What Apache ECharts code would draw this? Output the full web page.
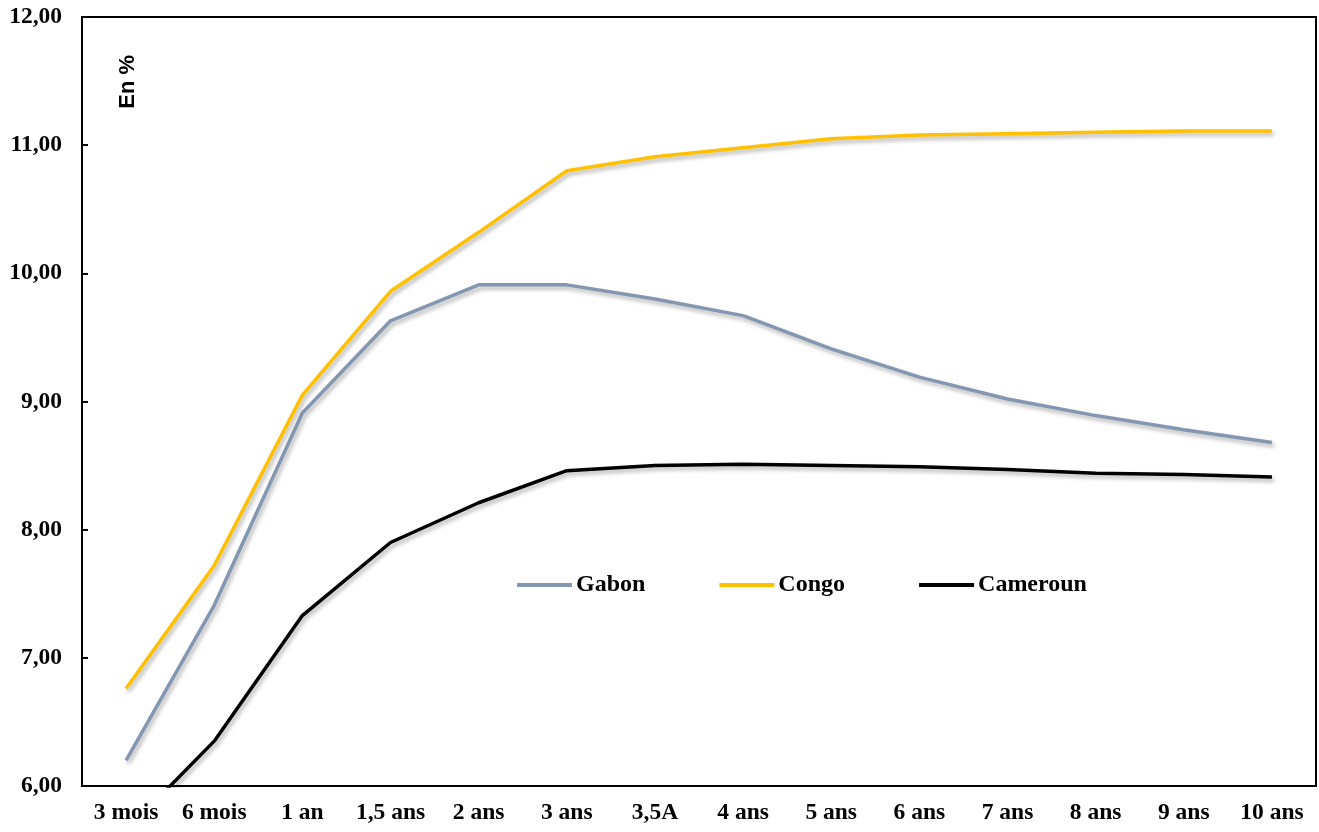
<!DOCTYPE html>
<html>
<head>
<meta charset="utf-8">
<script src="https://cdn.jsdelivr.net/npm/echarts@6/dist/echarts.min.js"></script>
<style>
html, body { margin: 0; padding: 0; background: #fff; }
#chart { width: 1319px; height: 832px; }
</style>
</head>
<body>
<div id="chart"></div>
<script>
// échéances
const maturites = ['3 mois', '6 mois', '1 an', '1,5 ans', '2 ans', '3 ans', '3,5A', '4 ans', '5 ans', '6 ans', '7 ans', '8 ans', '9 ans', '10 ans'];
// taux en %
const gabon = [6.20, 7.41, 8.91, 9.63, 9.91, 9.91, 9.80, 9.67, 9.41, 9.19, 9.02, 8.89, 8.78, 8.68];
const congo = [6.76, 7.72, 9.05, 9.86, 10.32, 10.80, 10.91, 10.98, 11.05, 11.08, 11.09, 11.10, 11.11, 11.11];
const cameroun = [5.65, 6.35, 7.33, 7.90, 8.21, 8.46, 8.50, 8.51, 8.50, 8.49, 8.47, 8.44, 8.43, 8.41];

const serif = '"Liberation Serif", "Times New Roman", serif';

const chart = echarts.init(document.getElementById('chart'));

// style commun des courbes
function serie(name, data, color) {
    return {
        name: name,
        type: 'line',
        data: data,
        symbol: 'none',
        clip: true,
        lineStyle: {
            color: color,
            width: 3.5,
            shadowColor: 'rgba(0,0,0,0.3)',
            shadowBlur: 4,
            shadowOffsetX: 2,
            shadowOffsetY: 3
        },
        itemStyle: { color: color }
    };
}

chart.setOption({
    animation: false,
    grid: {
        left: 82, right: 3, top: 17, bottom: 46,
        show: true, borderColor: '#000', borderWidth: 2
    },
    legend: {
        left: 512, top: 568,
        itemWidth: 55, itemHeight: 4, itemGap: 74,
        icon: 'rect',
        textStyle: { fontFamily: serif, fontWeight: 'bold', fontSize: 24, color: '#000', padding: [0, 0, 0, -1] },
        data: ['Gabon', 'Congo', 'Cameroun']
    },
    xAxis: {
        type: 'category',
        data: maturites,
        boundaryGap: true,
        axisLine: { lineStyle: { color: '#000', width: 2 } },
        axisTick: { inside: true, length: 6, lineStyle: { color: '#000', width: 2 } },
        axisLabel: { fontFamily: serif, fontWeight: 'bold', fontSize: 23.5, color: '#000', margin: 15, interval: 0 }
    },
    yAxis: {
        type: 'value',
        min: 6, max: 12, interval: 1,
        splitLine: { show: false },
        axisLine: { show: true, lineStyle: { color: '#000', width: 2 } },
        axisTick: { show: true, inside: true, length: 6, lineStyle: { color: '#000', width: 2 } },
        axisLabel: {
            fontFamily: serif, fontWeight: 'bold', fontSize: 23.5, color: '#000', margin: 20,
            formatter: v => v.toFixed(2).replace('.', ',')
        }
    },
    graphic: [{
        type: 'text',
        left: 117, top: 55,
        rotation: Math.PI / 2,
        style: { text: 'En %', font: 'bold 22px "Liberation Sans", Arial, sans-serif', fill: '#000' }
    }],
    series: [
        serie('Gabon', gabon, '#8497B0'),
        serie('Congo', congo, '#FFC000'),
        serie('Cameroun', cameroun, '#000000')
    ]
});
</script>
</body>
</html>
